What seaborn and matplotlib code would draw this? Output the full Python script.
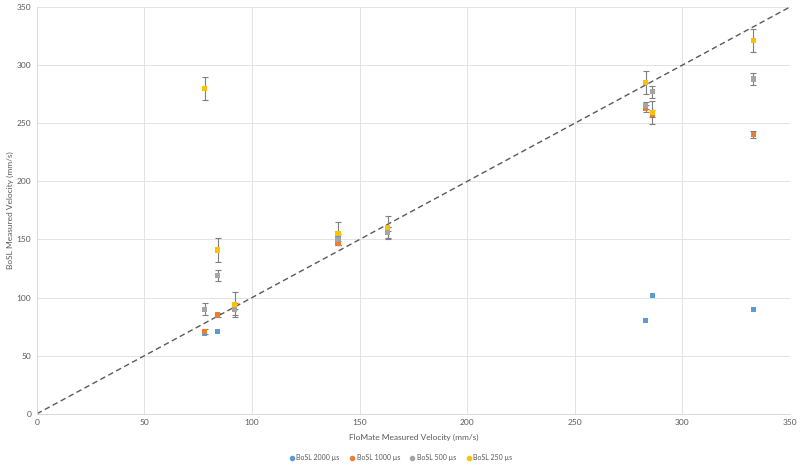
import numpy as np
import pandas as pd
import seaborn as sns
import matplotlib.pyplot as plt

# --- Data ---
flomate = [78, 84, 92, 140, 163, 283, 286, 333]

bosl_2000 = [69, 71, 91, 153, 157, 80, 102, 90]
bosl_1000 = [71, 85, 92, 147, 159, 263, 258, 240]
bosl_500 = [90, 119, 90, 150, 156, 265, 277, 288]
bosl_250 = [280, 141, 94, 155, 160, 285, 259, 321]

err_2000 = [0, 0, 0, 0, 0, 0, 0, 0]
err_1000 = [2, 2, 2, 2, 2, 3, 3, 3]
err_500 = [5, 5, 5, 5, 5, 3, 5, 5]
err_250 = [10, 10, 11, 10, 10, 10, 10, 10]

series_names = ["BoSL 2000 µs", "BoSL 1000 µs", "BoSL 500 µs", "BoSL 250 µs"]
colors = ["#5B9BD5", "#ED7D31", "#A5A5A5", "#FFC000"]

rows = []
for name, vals, errs in zip(series_names,
                            [bosl_2000, bosl_1000, bosl_500, bosl_250],
                            [err_2000, err_1000, err_500, err_250]):
    for x, y, e in zip(flomate, vals, errs):
        rows.append({"FloMate": x, "BoSL": y, "err": e, "Series": name})
df = pd.DataFrame(rows)

sns.set_style("white")
plt.rcParams["font.family"] = ["Lato", "DejaVu Sans"]

fig = plt.figure(figsize=(8, 4.65), dpi=100)
ax = fig.add_axes([0.046, 0.11, 0.9415, 0.875])

# y = x reference line
ax.plot([0, 350], [0, 350], linestyle=(0, (4, 2.5)), color="#595959",
        linewidth=1.0, zorder=1)

# error bars (drawn under markers)
for name in series_names:
    sub = df[df["Series"] == name]
    sub = sub[sub["err"] > 0]
    if len(sub):
        ax.errorbar(sub["FloMate"], sub["BoSL"], yerr=sub["err"], fmt="none",
                    ecolor="#7F7F7F", elinewidth=0.8, capsize=2.5,
                    capthick=0.8, zorder=2)

sns.scatterplot(data=df, x="FloMate", y="BoSL", hue="Series",
                hue_order=series_names, palette=colors, marker="s", s=14,
                linewidth=0, ax=ax, zorder=3, legend=False)

ax.set_xlim(0, 350)
ax.set_ylim(0, 350)
ax.set_xticks(np.arange(0, 351, 50))
ax.set_yticks(np.arange(0, 351, 50))
ax.grid(True, color="#E3E3E3", linewidth=0.7)
ax.set_axisbelow(True)
for side in ["top", "right"]:
    ax.spines[side].set_visible(False)
for side in ["left", "bottom"]:
    ax.spines[side].set_color("#D9D9D9")
    ax.spines[side].set_linewidth(0.7)
ax.tick_params(axis="both", length=0, labelsize=6, colors="#595959", pad=4)

ax.set_xlabel("FloMate Measured Velocity (mm/s)", fontsize=6, color="#595959",
              labelpad=5)
ax.set_ylabel("BoSL Measured Velocity (mm/s)", fontsize=6, color="#595959",
              labelpad=2)

handles = [plt.Line2D([], [], marker="o", linestyle="none", color=c,
                      markersize=3) for c in colors]
fig.legend(handles, series_names, loc="center", bbox_to_anchor=(0.5, 0.016),
           ncol=4, frameon=False, fontsize=5, handletextpad=0.05,
           handlelength=1.2, columnspacing=1.2, labelcolor="#595959")

fig.savefig("out.png", dpi=100)
